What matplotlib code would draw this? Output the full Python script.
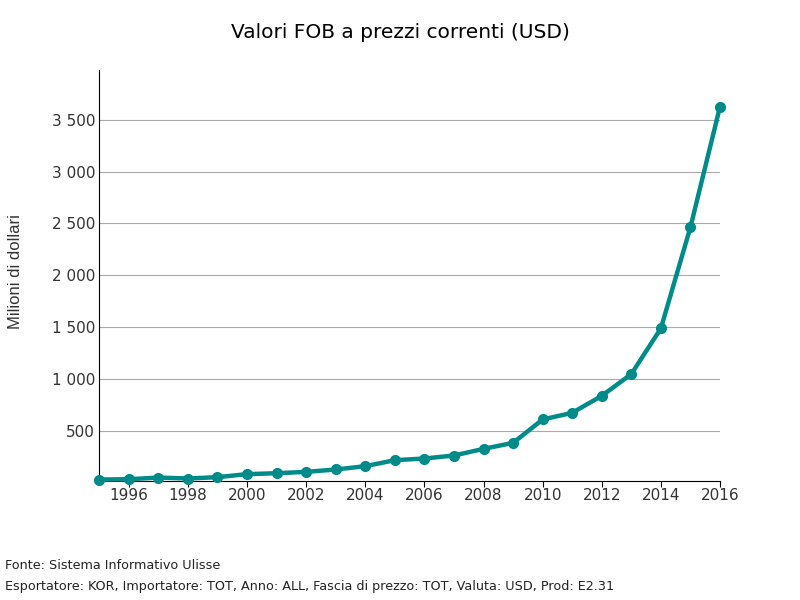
import matplotlib
matplotlib.use("Agg")
import matplotlib.pyplot as plt
from matplotlib.ticker import FuncFormatter

years = list(range(1995, 2017))
values = [28, 31, 47, 38, 51, 80, 89, 102, 125, 157, 215, 231, 260, 324, 382,
          608, 672, 836, 1046, 1487, 2464, 3628]
yticks = [500, 1000, 1500, 2000, 2500, 3000, 3500]
xticks = list(range(1996, 2017, 2))

plt.rcParams['font.family'] = 'DejaVu Sans'
fig = plt.figure(figsize=(8, 6), dpi=100)
ax = fig.add_axes([0.124, 0.198, 0.776, 0.685])
color = '#008b8b'
ax.plot(years, values, color=color, lw=3.2, marker='o', ms=7, zorder=3, clip_on=False)
ax.set_xlim(1995, 2016)
ax.set_ylim(12, 3980)
ax.set_yticks(yticks)
ax.set_xticks(xticks)
ax.yaxis.set_major_formatter(FuncFormatter(lambda v, p: f"{int(v):,}".replace(",", " ")))
ax.grid(axis='y', color='#aaaaaa', lw=0.8)
ax.set_axisbelow(True)
for s in ['top', 'right']:
    ax.spines[s].set_visible(False)
ax.spines['left'].set_color('black')
ax.spines['bottom'].set_color('black')
ax.tick_params(axis='y', length=0, labelsize=11, colors='#333333', pad=3)
ax.tick_params(axis='x', length=4, labelsize=11, colors='black', labelcolor='#333333', pad=1)
ax.set_ylabel('Milioni di dollari', fontsize=12, color='#333333', family='Liberation Sans')
ax.yaxis.set_label_coords(-0.122, 0.51)
fig.text(0.5, 0.945, 'Valori FOB a prezzi correnti (USD)', ha='center', va='center', fontsize=14.5)
fig.text(0.006, 0.057, 'Fonte: Sistema Informativo Ulisse', fontsize=9.2, va='center', color='#222222')
fig.text(0.006, 0.023, 'Esportatore: KOR, Importatore: TOT, Anno: ALL, Fascia di prezzo: TOT, Valuta: USD, Prod: E2.31',
         fontsize=9.2, va='center', color='#222222')
fig.savefig('out.png', dpi=100)
